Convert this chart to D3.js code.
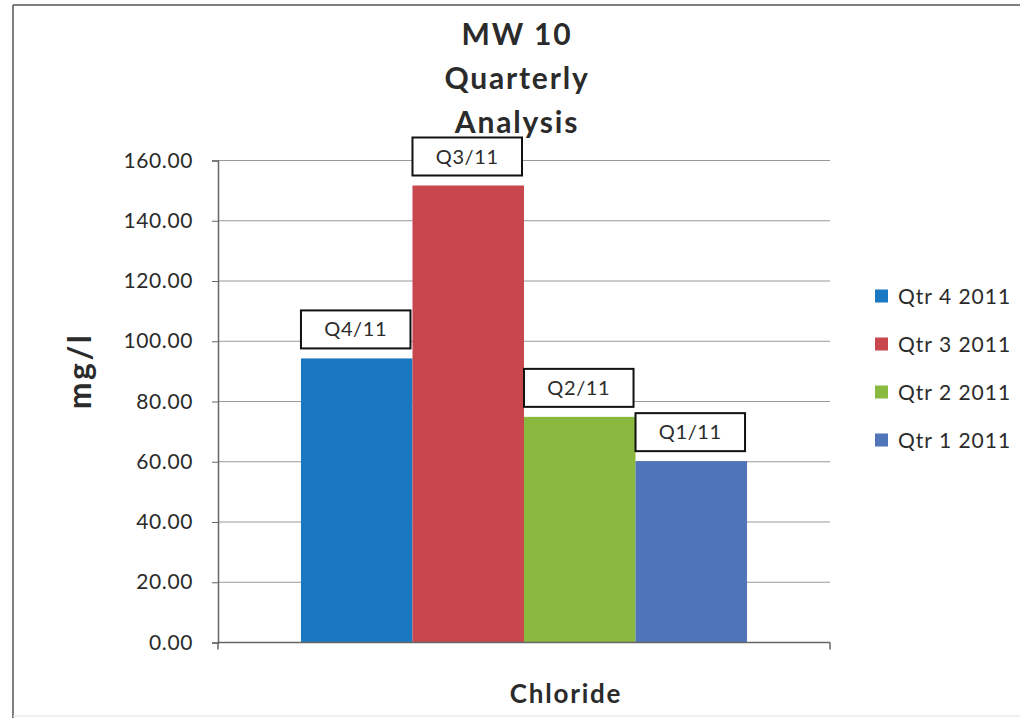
<!DOCTYPE html>
<html>
<head>
<meta charset="utf-8">
<script src="https://cdn.jsdelivr.net/npm/d3@7"></script>
<style>
  body { margin: 0; background: #fff; }
  text { font-family: Lato, "Open Sans", sans-serif; fill: #2b2b2b; }
</style>
</head>
<body>
<svg id="chart" width="1027" height="726"></svg>
<script>
// chart data
var categories = ['Chloride'];
var seriesNames = ['Qtr 4 2011', 'Qtr 3 2011', 'Qtr 2 2011', 'Qtr 1 2011'];
var seriesValues = [94.3, 151.7, 74.9, 60.2];
var pointLabels = ['Q4/11', 'Q3/11', 'Q2/11', 'Q1/11'];
var seriesColors = ['#1a78c2', '#c8464d', '#8ab93f', '#4f74b8'];
var yTicks = [0, 20, 40, 60, 80, 100, 120, 140, 160];
var titleLines = ['MW 10', 'Quarterly', 'Analysis'];

var plot = {left: 218, right: 830, top: 160.5, bottom: 642.5};

var svg = d3.select('#chart');

// frame round the whole chart
svg.append('line').attr('x1', 13).attr('y1', 5).attr('x2', 13).attr('y2', 718)
    .attr('stroke', '#555').attr('stroke-width', 1.5);
svg.append('line').attr('x1', 13).attr('y1', 5).attr('x2', 1020).attr('y2', 5)
    .attr('stroke', '#555').attr('stroke-width', 1.5);
svg.append('line').attr('x1', 13).attr('y1', 716).attr('x2', 1020).attr('y2', 716)
    .attr('stroke', '#e4e4e4').attr('stroke-width', 1);

var y = d3.scaleLinear()
    .domain([0, 160])
    .range([plot.bottom, plot.top]);

var x0 = d3.scaleBand()
    .domain(categories)
    .range([plot.left, plot.right])
    .paddingInner(0)
    .paddingOuter(0.186);

var x1 = d3.scaleBand()
    .domain(seriesNames)
    .range([0, x0.bandwidth()]);

// gridlines
svg.append('g')
    .selectAll('line')
    .data(yTicks.slice(1))
    .enter()
    .append('line')
    .attr('x1', plot.left)
    .attr('x2', plot.right)
    .attr('y1', function(d) { return y(d); })
    .attr('y2', function(d) { return y(d); })
    .attr('stroke', '#999')
    .attr('stroke-width', 1);

// y axis
var yAxis = d3.axisLeft(y)
    .tickValues(yTicks)
    .tickSize(6)
    .tickPadding(19)
    .tickFormat(d3.format('.2f'));

var yg = svg.append('g')
    .attr('transform', 'translate(' + plot.left + ',0)')
    .call(yAxis);
yg.select('.domain').attr('stroke', '#666').attr('stroke-width', 1.5);
yg.selectAll('.tick line').attr('stroke', '#666');
yg.selectAll('.tick text')
    .style('font-size', '21px')
    .style('letter-spacing', '0.6px')
    .style('fill', '#2b2b2b');

// bars
var group = svg.append('g')
    .selectAll('g')
    .data(categories)
    .enter()
    .append('g')
    .attr('transform', function(d) { return 'translate(' + x0(d) + ',0)'; });

var rows = seriesNames.map(function(name, i) {
    return {name: name, value: seriesValues[i], label: pointLabels[i], color: seriesColors[i]};
});

group.selectAll('rect.bar')
    .data(rows)
    .enter()
    .append('rect')
    .attr('class', 'bar')
    .attr('x', function(d) { return x1(d.name); })
    .attr('width', x1.bandwidth())
    .attr('y', function(d) { return y(d.value); })
    .attr('height', function(d) { return y(0) - y(d.value); })
    .attr('fill', function(d) { return d.color; });

// x axis baseline
var xg = svg.append('g');
xg.append('line')
    .attr('x1', plot.left).attr('x2', plot.right)
    .attr('y1', y(0)).attr('y2', y(0))
    .attr('stroke', '#666').attr('stroke-width', 1.5);
xg.selectAll('line.tick')
    .data([plot.left, plot.right])
    .enter()
    .append('line')
    .attr('class', 'tick')
    .attr('x1', function(d) { return d; }).attr('x2', function(d) { return d; })
    .attr('y1', y(0)).attr('y2', y(0) + 7)
    .attr('stroke', '#666').attr('stroke-width', 1.5);

// data labels in boxes
var boxH = 38;
var labels = group.selectAll('g.lbl')
    .data(rows)
    .enter()
    .append('g')
    .attr('class', 'lbl')
    .attr('transform', function(d) {
        return 'translate(' + x1(d.name) + ',' + (y(d.value) - 10 - boxH) + ')';
    });

labels.append('rect')
    .attr('x', 0)
    .attr('y', 0)
    .attr('width', x1.bandwidth() - 2)
    .attr('height', boxH)
    .attr('fill', '#fff')
    .attr('stroke', '#111')
    .attr('stroke-width', 2);

labels.append('text')
    .attr('x', (x1.bandwidth() - 2) / 2)
    .attr('y', boxH / 2 + 7)
    .attr('text-anchor', 'middle')
    .style('font-size', '20px')
    .style('letter-spacing', '0.6px')
    .text(function(d) { return d.label; });

// title
svg.append('g')
    .selectAll('text')
    .data(titleLines)
    .enter()
    .append('text')
    .attr('x', 517)
    .attr('y', function(d, i) { return 45 + i * 44; })
    .attr('text-anchor', 'middle')
    .style('font-size', '30px')
    .style('font-weight', 'bold')
    .style('letter-spacing', '1.8px')
    .text(function(d) { return d; });

// axis titles
svg.append('text')
    .attr('transform', 'translate(91,371) rotate(-90)')
    .attr('text-anchor', 'middle')
    .style('font-size', '32px')
    .style('font-weight', 'bold')
    .style('letter-spacing', '2.5px')
    .text('mg/l');

svg.append('text')
    .attr('x', 566)
    .attr('y', 703)
    .attr('text-anchor', 'middle')
    .style('font-size', '26px')
    .style('font-weight', 'bold')
    .style('letter-spacing', '1.8px')
    .text(categories[0]);

// legend
var legend = svg.append('g')
    .selectAll('g')
    .data(rows)
    .enter()
    .append('g')
    .attr('transform', function(d, i) { return 'translate(875,' + (296 + i * 48) + ')'; });

legend.append('rect')
    .attr('x', 0)
    .attr('y', -6.5)
    .attr('width', 13)
    .attr('height', 13)
    .attr('fill', function(d) { return d.color; });

legend.append('text')
    .attr('x', 23)
    .attr('y', 7.5)
    .style('font-size', '21px')
    .style('letter-spacing', '1px')
    .text(function(d) { return d.name; });
</script>
</body>
</html>
